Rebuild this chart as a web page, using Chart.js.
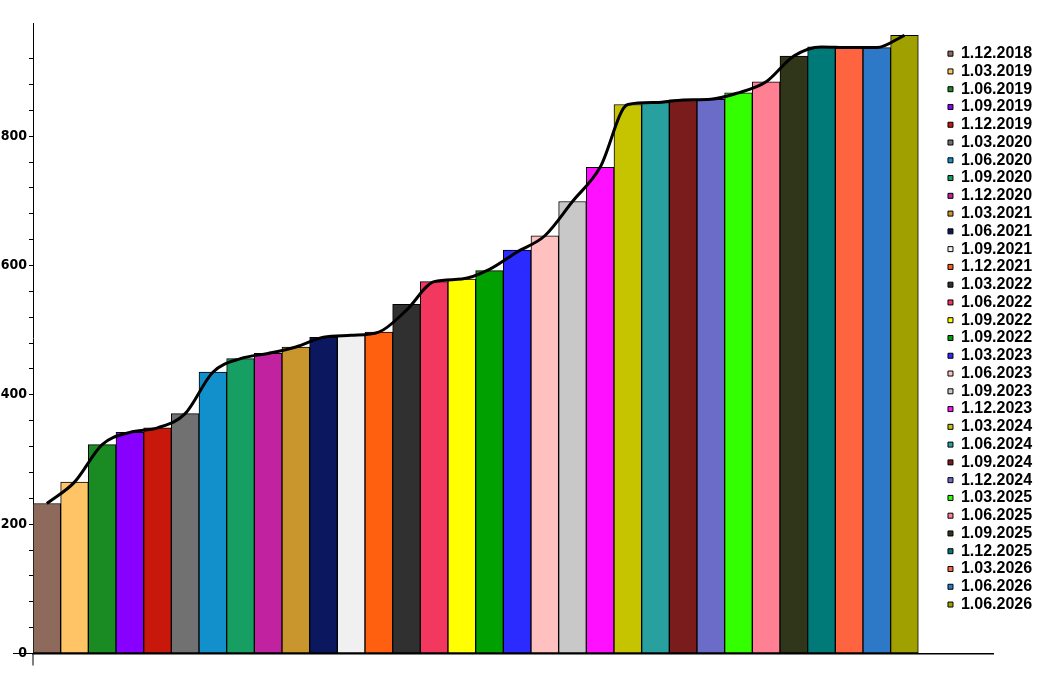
<!DOCTYPE html>
<html>
<head>
<meta charset="utf-8">
<script src="https://cdn.jsdelivr.net/npm/chart.js@4"></script>
<style>
  html, body { margin: 0; padding: 0; background: #fff; }
  #wrap { width: 1051px; height: 689px; position: relative; }
</style>
</head>
<body>
<div id="wrap"><canvas id="c"></canvas></div>
<script>
// ---- data ----
const categories = [
  '1.12.2018','1.03.2019','1.06.2019','1.09.2019','1.12.2019','1.03.2020','1.06.2020','1.09.2020',
  '1.12.2020','1.03.2021','1.06.2021','1.09.2021','1.12.2021','1.03.2022','1.06.2022','1.09.2022',
  '1.09.2022','1.03.2023','1.06.2023','1.09.2023','1.12.2023','1.03.2024','1.06.2024','1.09.2024',
  '1.12.2024','1.03.2025','1.06.2025','1.09.2025','1.12.2025','1.03.2026','1.06.2026','1.06.2026'
];
const values = [
  232, 265, 323, 342, 349, 371, 435, 456,
  464, 474, 489, 492, 497, 540, 575, 579,
  592, 624, 646, 699, 752, 849, 852, 856,
  857, 867, 884, 924, 938, 936, 937, 956
];
const trendValues = [
  232, 265, 323, 342, 349, 371, 435, 456,
  464, 474, 489, 492, 497, 531, 575, 579,
  594, 621, 646, 699, 752, 849, 852, 856,
  857, 867, 884, 924, 938, 937, 937, 956
];
const barColors = [
  '#8D6A5B','#FFC466','#1A8A22','#8800FF','#C8180C','#717171','#1190CC','#179E63',
  '#C022A0','#C8962C','#0B1860','#F0F0F0','#FF6010','#303030','#F2385E','#FFFF00',
  '#00A000','#2B2BFF','#FFC0C0','#C8C8C8','#FF10FF','#C6C400','#28A0A0','#7A1C1C',
  '#6B6BC8','#33FF00','#FF8093','#30361A','#007A78','#FF6440','#2E78C8','#A0A000'
];
const yTickStep = 40;
const yLabelStep = 200;
const yMax = 975;
const xMax = 34.7;

const barPoints = values.map((v, i) => ({ x: i + 0.5, y: v }));
const trendPoints = trendValues.map((v, i) => ({ x: i + 0.5, y: v }));

const axisExtend = {
  id: 'axisExtend',
  afterLayout(chart) {
    const lg = chart.legend, ca = chart.chartArea;
    if (!lg) return;
    lg.left = ca.right - 46.8;
    lg.right = lg.left + lg.width;
    lg.top = ca.top + 20.9;
    lg.bottom = lg.top + lg.height;
  },
  afterDatasetsDraw(chart) {
    const ctx = chart.ctx, ca = chart.chartArea;
    ctx.save();
    ctx.strokeStyle = '#000';
    ctx.lineWidth = 1;
    ctx.beginPath();
    ctx.moveTo(ca.left, ca.bottom);
    ctx.lineTo(ca.left, ca.bottom + 12);
    ctx.moveTo(ca.left - 20, ca.bottom);
    ctx.lineTo(ca.left, ca.bottom);
    ctx.stroke();
    ctx.restore();
  }
};

new Chart(document.getElementById('c'), {
  data: {
    datasets: [
      {
        type: 'line',
        label: 'trend',
        data: trendPoints,
        borderColor: '#000',
        borderWidth: 3,
        pointRadius: 0,
        cubicInterpolationMode: 'monotone',
        fill: false,
        order: 0
      },
      {
        type: 'bar',
        label: 'values',
        data: barPoints,
        backgroundColor: barColors,
        borderColor: '#000',
        borderWidth: 1,
        borderSkipped: false,
        categoryPercentage: 1,
        barPercentage: 1,
        order: 1
      }
    ]
  },
  options: {
    responsive: true,
    maintainAspectRatio: false,
    animation: false,
    layout: { padding: { top: 23, right: 58, left: 0, bottom: 0 } },
    plugins: {
      tooltip: { enabled: false },
      legend: {
        position: 'chartArea',
        align: 'start',
        onClick: null,
        labels: {
          boxWidth: 5,
          boxHeight: 5,
          padding: 1.77,
          color: '#000',
          font: { family: "'Liberation Sans', Arial, sans-serif", size: 16, weight: 'bold' },
          generateLabels: () => categories.map((c, i) => ({
            text: c,
            fillStyle: barColors[i],
            strokeStyle: '#000',
            lineWidth: 1,
            hidden: false,
            index: i,
            datasetIndex: 1
          }))
        }
      }
    },
    scales: {
      x: {
        type: 'linear',
        min: 0,
        max: xMax,
        offset: false,
        grid: { display: false, offset: false },
        ticks: { display: false },
        border: { display: true, color: '#000', width: 1.5 },
        afterFit: (s) => { s.height = 35.5; }
      },
      y: {
        type: 'linear',
        min: 0,
        max: yMax,
        afterBuildTicks: (s) => { s.ticks = s.ticks.filter(t => t.value % yTickStep === 0); },
        ticks: {
          stepSize: yTickStep,
          autoSkip: false,
          padding: 2,
          color: '#000',
          font: { family: "'Liberation Sans Narrow', 'DejaVu Sans Condensed', sans-serif", size: 14, weight: 'bold' },
          callback: (v) => (v % yLabelStep === 0 ? String(v) : '')
        },
        grid: { display: true, drawOnChartArea: false, drawTicks: true, tickLength: 4, color: '#000' },
        border: { display: true, color: '#000', width: 1 },
        afterFit: (s) => { s.width = 33; }
      }
    }
  },
  plugins: [axisExtend]
});
</script>
</body>
</html>
